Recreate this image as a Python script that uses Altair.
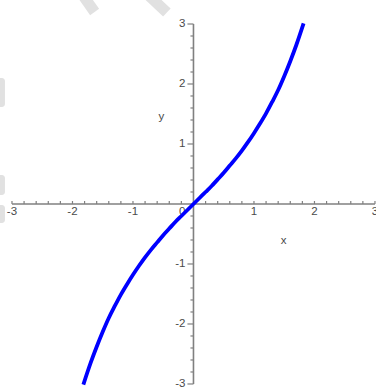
import altair as alt
import numpy as np
import pandas as pd

# Curve samples (x, y)
curve_x = [-1.82, -1.7, -1.6, -1.5, -1.4, -1.3, -1.2, -1.1, -1.0, -0.9, -0.8, -0.7,
           -0.6, -0.5, -0.4, -0.3, -0.2, -0.1, 0.0, 0.1, 0.2, 0.3, 0.4, 0.5, 0.6,
           0.7, 0.8, 0.9, 1.0, 1.1, 1.2, 1.3, 1.4, 1.5, 1.6, 1.7, 1.82]
curve_y = [-3.01, -2.65, -2.38, -2.13, -1.90, -1.70, -1.51, -1.34, -1.18, -1.03, -0.89, -0.76,
           -0.64, -0.52, -0.41, -0.30, -0.20, -0.10, 0.0, 0.10, 0.20, 0.30, 0.41, 0.52, 0.64,
           0.76, 0.89, 1.03, 1.18, 1.34, 1.51, 1.70, 1.90, 2.13, 2.38, 2.65, 3.01]

# Axis tick labels
x_tick_values = [-3, -2, -1, 1, 2, 3]
x_tick_labels = ["-3", "-2", "-1", "1", "2", "3"]
y_tick_values = [-3, -2, -1, 1, 2, 3]
y_tick_labels = ["-3", "-2", "-1", "1", "2", "3"]

# Axis titles and their positions in data units
title_text = ["x", "y"]
title_x = [1.49, -0.53]
title_y = [-0.62, 1.45]

# Faint background strokes
band_id = ["a", "a", "b", "b"]
band_x = [-1.831, -1.634, -0.747, -0.44]
band_y = [3.483, 3.2, 3.483, 3.19]
patch_y_top = [2.1, 0.483, -0.017]
patch_y_bot = [1.617, 0.15, -0.317]

X_DOMAIN = [-3.198, 3.017]
Y_DOMAIN = [-3.117, 3.4]
AXIS_GREY = "#808080"
LABEL_GREY = "#4a4a4a"
FONT = "Liberation Sans"

xs = alt.Scale(domain=X_DOMAIN, nice=False, zero=False)
ys = alt.Scale(domain=Y_DOMAIN, nice=False, zero=False)

def X(field):
    return alt.X(field, type="quantitative", scale=xs, axis=None)

def Y(field):
    return alt.Y(field, type="quantitative", scale=ys, axis=None)

curve_df = pd.DataFrame({"x": curve_x, "y": curve_y})

bands_df = pd.DataFrame({"band": band_id, "x": band_x, "y": band_y})
patches_df = pd.DataFrame({"x0": [-3.4] * 3, "x1": [-3.116] * 3,
                           "y0": patch_y_top, "y1": patch_y_bot})

bands = alt.Chart(bands_df).mark_line(
    color="#e1e1e1", strokeWidth=11, strokeCap="butt", clip=True
).encode(x=X("x"), y=Y("y"), detail="band:N")

patches = alt.Chart(patches_df).mark_rect(
    color="#e1e1e1", cornerRadius=3, clip=True
).encode(x=X("x0"), x2="x1", y=Y("y0"), y2="y1")

# Axis lines through the origin
axes_df = pd.DataFrame({"x0": [-3, 0], "x1": [3, 0], "y0": [0, -3], "y1": [0, 3]})
axis_lines = alt.Chart(axes_df).mark_rule(color=AXIS_GREY, strokeWidth=1.6).encode(
    x=X("x0"), x2="x1", y=Y("y0"), y2="y1"
)

# Tick marks: every 0.2 units, longer at whole numbers on the vertical axis
ticks = np.round(np.arange(-3, 3.0001, 0.2), 1)
ticks = ticks[ticks != 0]
xt_df = pd.DataFrame({"x": ticks, "y0": 0.0, "y1": 0.05})
major = np.isclose(ticks, np.round(ticks))
yt_df = pd.DataFrame({"y": ticks, "x0": 0.0, "x1": np.where(major, -0.1, -0.05)})

x_ticks = alt.Chart(xt_df).mark_rule(color=AXIS_GREY, strokeWidth=1.2).encode(
    x=X("x"), y=Y("y0"), y2="y1"
)
y_ticks = alt.Chart(yt_df).mark_rule(color=AXIS_GREY, strokeWidth=1.2).encode(
    y=Y("y"), x=X("x0"), x2="x1"
)

xl_df = pd.DataFrame({"x": x_tick_values, "y": 0.0, "label": x_tick_labels})
yl_df = pd.DataFrame({"y": y_tick_values, "x": 0.0, "label": y_tick_labels})
zero_df = pd.DataFrame({"x": [0.0], "y": [0.0], "label": ["0"]})

x_labels = alt.Chart(xl_df).mark_text(
    font=FONT, fontSize=11.5, color=LABEL_GREY, align="center", baseline="top", dy=2
).encode(x=X("x"), y=Y("y"), text="label:N")

y_labels = alt.Chart(yl_df).mark_text(
    font=FONT, fontSize=11.5, color=LABEL_GREY, align="right", baseline="middle", dx=-8
).encode(x=X("x"), y=Y("y"), text="label:N")

zero_label = alt.Chart(zero_df).mark_text(
    font=FONT, fontSize=11.5, color=LABEL_GREY, align="right", baseline="top", dx=-8, dy=2
).encode(x=X("x"), y=Y("y"), text="label:N")

titles_df = pd.DataFrame({"x": title_x, "y": title_y, "label": title_text})
titles = alt.Chart(titles_df).mark_text(
    font=FONT, fontSize=11.5, color=LABEL_GREY, align="center", baseline="middle"
).encode(x=X("x"), y=Y("y"), text="label:N")

curve = alt.Chart(curve_df).mark_line(
    color="#0000ff", strokeWidth=3.8, interpolate="monotone", strokeCap="butt"
).encode(x=X("x"), y=Y("y"), order="x:Q")

chart = alt.layer(
    bands, patches, axis_lines, x_ticks, y_ticks,
    x_labels, y_labels, zero_label, titles, curve
).properties(
    width=376, height=391, padding=0, autosize="none", background="white"
).configure_view(strokeWidth=0)

chart.save("out.html", embed_options={"renderer": "svg", "actions": False})
